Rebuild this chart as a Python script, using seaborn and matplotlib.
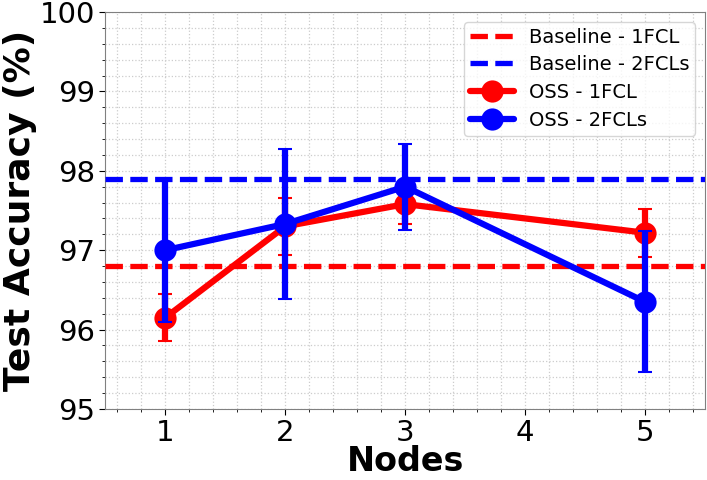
import numpy as np
import pandas as pd
import seaborn as sns
import matplotlib
matplotlib.use("Agg")
import matplotlib.pyplot as plt
from matplotlib.ticker import MultipleLocator

# data
nodes = [1, 2, 3, 5]
oss_1fcl = [96.15, 97.30, 97.58, 97.22]
oss_1fcl_err = [0.30, 0.36, 0.25, 0.30]
oss_2fcls = [97.00, 97.33, 97.80, 96.35]
oss_2fcls_err = [0.90, 0.94, 0.54, 0.89]
baseline_1fcl = 96.80
baseline_2fcls = 97.90

sns.set_style("white", {'text.color': 'black', 'axes.labelcolor': 'black',
                        'xtick.color': 'black', 'ytick.color': 'black'})
plt.rcParams['font.family'] = ['DejaVu Sans']

fig, ax = plt.subplots(figsize=(7.07, 4.8), dpi=100)

# baselines
ax.axhline(baseline_1fcl, color='red', ls='--', lw=3.8, dashes=(3.3, 1.4), label='Baseline - 1FCL', zorder=3)
ax.axhline(baseline_2fcls, color='blue', ls='--', lw=3.8, dashes=(3.3, 1.4), label='Baseline - 2FCLs', zorder=3)

# OSS results
df = pd.DataFrame({'Nodes': nodes, 'red': oss_1fcl, 'blue': oss_2fcls})
ax.errorbar(nodes, oss_1fcl, yerr=oss_1fcl_err, fmt='none', ecolor='red',
            elinewidth=4.5, capsize=5, capthick=1.5, zorder=4)
sns.lineplot(data=df, x='Nodes', y='red', ax=ax, color='red', lw=4.5, marker='o',
             markersize=16, markeredgewidth=0, label='OSS - 1FCL', zorder=5)
ax.errorbar(nodes, oss_2fcls, yerr=oss_2fcls_err, fmt='none', ecolor='blue',
            elinewidth=4.5, capsize=5, capthick=1.5, zorder=6)
sns.lineplot(data=df, x='Nodes', y='blue', ax=ax, color='blue', lw=4.5, marker='o',
             markersize=16, markeredgewidth=0, label='OSS - 2FCLs', zorder=7)

ax.set_xlim(0.5, 5.5)
ax.set_ylim(95, 100)
ax.xaxis.set_major_locator(MultipleLocator(1))
ax.xaxis.set_minor_locator(MultipleLocator(0.2))
ax.yaxis.set_major_locator(MultipleLocator(1))
ax.yaxis.set_minor_locator(MultipleLocator(0.2))
ax.grid(which='both', color='#cccccc', ls=':', lw=0.9)
ax.tick_params(which='major', labelsize=21, length=4, pad=3, direction='out', bottom=True, left=True)
ax.tick_params(which='minor', length=2, bottom=True, left=True)
for s in ax.spines.values():
    s.set_color('#808080')

ax.set_xlabel('Nodes', fontsize=24, fontweight='bold', labelpad=-1)
ax.set_ylabel('Test Accuracy (%)', fontsize=26, fontweight='bold', labelpad=2)

ax.legend(loc='upper right', fontsize=14, frameon=True, handlelength=2.3,
          borderpad=0.3, labelspacing=0.45, handletextpad=0.75)

fig.subplots_adjust(left=0.149, right=0.997, top=0.975, bottom=0.148)
fig.savefig('out.png', dpi=100)
